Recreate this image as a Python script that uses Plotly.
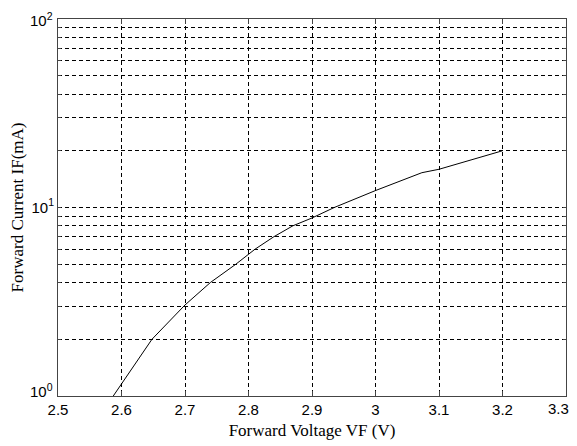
import plotly.graph_objects as go

# Data
vf = [2.587, 2.648, 2.70, 2.74, 2.78, 2.81, 2.84, 2.87, 2.90, 2.935, 3.00, 3.073, 3.10, 3.20]
if_ma = [1.0, 2.0, 3.04, 4.0, 5.0, 6.0, 7.0, 8.0, 8.8, 10.0, 12.3, 15.3, 15.95, 20.0]

x_ticks = [2.5, 2.6, 2.7, 2.8, 2.9, 3.0, 3.1, 3.2, 3.3]
x_labels = ["2.5", "2.6", "2.7", "2.8", "2.9", "3", "3.1", "3.2", ""]
x_last_label = "3.3"
y_ticks = [1, 2, 3, 4, 5, 6, 7, 8, 9, 10, 20, 30, 40, 50, 60, 70, 80, 90, 100]
y_labels = ["", "", "", "", "", "", "", "", "",
            "10<sup>1</sup>", "", "", "", "", "", "", "", "", ""]
y_bottom_label = "10<sup>0</sup>"
y_top_label = "10<sup>2</sup>"

fig = go.Figure()
fig.add_trace(go.Scatter(x=vf, y=if_ma, mode="lines",
                         line=dict(color="black", width=1), showlegend=False))

tick_font = dict(family="Liberation Sans, Arial", size=15, color="black")
title_font = dict(family="Liberation Serif, Times New Roman", size=17, color="black")

fig.add_annotation(x=0, xref="paper", y=0, yref="paper", text=y_bottom_label,
                   showarrow=False, xanchor="right", yanchor="middle",
                   xshift=-3, yshift=6, font=tick_font)
fig.add_annotation(x=0, xref="paper", y=1, yref="paper", text=y_top_label,
                   showarrow=False, xanchor="right", yanchor="middle",
                   xshift=-3, yshift=0, font=tick_font)
fig.add_annotation(x=1, xref="paper", y=0, yref="paper", text=x_last_label,
                   showarrow=False, xanchor="center", yanchor="top",
                   xshift=-8, yshift=-2, font=tick_font)

fig.update_layout(
    width=569, height=438,
    margin=dict(l=50, r=11, t=11, b=50),
    paper_bgcolor="white", plot_bgcolor="white",
    xaxis=dict(
        range=[2.5, 3.3], tickvals=x_ticks, ticktext=x_labels,
        showgrid=True, gridcolor="black", gridwidth=1, griddash="4px,3px",
        showline=True, linecolor="#444", linewidth=1, mirror="ticks",
        ticks="inside", ticklen=5, tickcolor="#444",
        tickfont=tick_font, zeroline=False, automargin=False,
        title=dict(text="Forward Voltage VF (V)", font=title_font, standoff=7),
    ),
    yaxis=dict(
        type="log", range=[0, 2], tickvals=y_ticks, ticktext=y_labels,
        showgrid=True, gridcolor="black", gridwidth=1, griddash="4px,3px",
        showline=True, linecolor="#444", linewidth=1, mirror="ticks",
        ticks="inside", ticklen=3, tickcolor="#444",
        tickfont=tick_font, zeroline=False, automargin=False,
        title=dict(text="Forward Current IF(mA)", font=title_font, standoff=9),
    ),
)

fig.write_html("out.html")
